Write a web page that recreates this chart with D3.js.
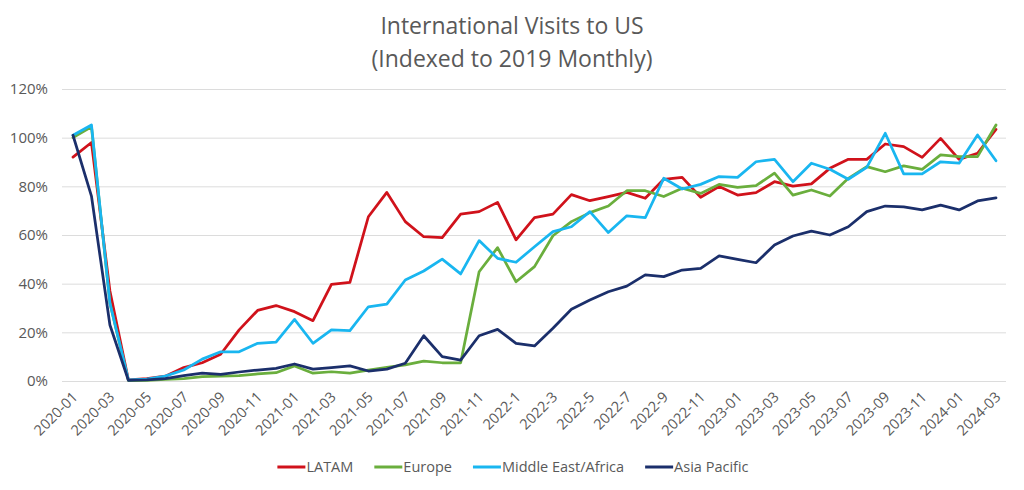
<!DOCTYPE html>
<html>
<head>
<meta charset="utf-8">
<script src="https://cdn.jsdelivr.net/npm/d3@7"></script>
<style>
  html, body { margin: 0; padding: 0; background: #ffffff; }
  svg { display: block; }
  text { font-family: "Open Sans", "Liberation Sans", Arial, sans-serif; fill: #595959; }
</style>
</head>
<body>
<svg id="chart" width="1024" height="490"></svg>
<script>
// ---------------- data ----------------
const months = [
  "2020-01","2020-02","2020-03","2020-04","2020-05","2020-06","2020-07","2020-08","2020-09","2020-10","2020-11","2020-12",
  "2021-01","2021-02","2021-03","2021-04","2021-05","2021-06","2021-07","2021-08","2021-09","2021-10","2021-11","2021-12",
  "2022-01","2022-02","2022-03","2022-04","2022-05","2022-06","2022-07","2022-08","2022-09","2022-10","2022-11","2022-12",
  "2023-01","2023-02","2023-03","2023-04","2023-05","2023-06","2023-07","2023-08","2023-09","2023-10","2023-11","2023-12",
  "2024-01","2024-02","2024-03"
];
const tickMonths = [
  "2020-01","2020-03","2020-05","2020-07","2020-09","2020-11","2021-01","2021-03","2021-05","2021-07","2021-09","2021-11",
  "2022-01","2022-03","2022-05","2022-07","2022-09","2022-11","2023-01","2023-03","2023-05","2023-07","2023-09","2023-11",
  "2024-01","2024-03"
];
const tickLabels = [
  "2020-01","2020-03","2020-05","2020-07","2020-09","2020-11","2021-01","2021-03","2021-05","2021-07","2021-09","2021-11",
  "2022-1","2022-3","2022-5","2022-7","2022-9","2022-11","2023-01","2023-03","2023-05","2023-07","2023-09","2023-11",
  "2024-01","2024-03"
];
const yTicks = [0, 0.2, 0.4, 0.6, 0.8, 1.0, 1.2];

const seriesNames = ["LATAM", "Europe", "Middle East/Africa", "Asia Pacific"];
const latam = [92, 98, 37, 0.5, 1, 2, 5.5, 7.5, 11, 21, 29, 31,
  28.5, 24.8, 39.7, 40.5, 67.5, 77.5, 65.5, 59.3, 58.9, 68.6, 69.6, 73.4,
  58, 67.1, 68.6, 76.6, 74.1, 75.8, 77.5, 75.1, 82.9, 83.7, 75.5, 79.9,
  76.4, 77.4, 81.9, 80.1, 81, 87.4, 91.1, 91.1, 97.4, 96.3, 91.9, 99.7,
  91.1, 93.6, 103.4];
const europe = [100, 104.5, 32, 0.2, 0.3, 0.7, 1, 1.8, 2, 2.2, 2.9, 3.4,
  6.2, 3.2, 3.8, 3.2, 4.5, 5.6, 6.6, 8.2, 7.5, 7.5, 44.9, 54.8,
  40.8, 47, 59.7, 65.5, 69.2, 71.9, 78.2, 78.2, 75.8, 79.2, 77.1, 80.8,
  79.6, 80.3, 85.4, 76.4, 78.5, 76, 83.3, 88.1, 86, 88.4, 87, 92.9,
  92.2, 92.2, 105.2];
const middleEastAfrica = [101, 105.2, 32, 0.5, 0.8, 2, 4.5, 9, 12, 12, 15.5, 16,
  25.3, 15.5, 21, 20.7, 30.5, 31.6, 41.5, 45.2, 50.1, 44, 57.7, 50.4,
  48.8, 55.2, 61.4, 63.4, 69.6, 61, 67.9, 67.1, 83.3, 78.9, 80.8, 84,
  83.7, 90.1, 91.1, 81.9, 89.5, 87, 82.9, 87.8, 101.8, 85.1, 85.1, 90.1,
  89.5, 101.1, 90.5];
const asiaPacific = [101, 76, 23, 0.3, 0.5, 1, 2.2, 3.2, 2.7, 3.7, 4.5, 5.2,
  7, 4.9, 5.5, 6.2, 4.1, 4.9, 7.3, 18.6, 10, 8.6, 18.6, 21.2,
  15.5, 14.4, 21.7, 29.5, 33.3, 36.7, 39, 43.6, 42.9, 45.6, 46.3, 51.4,
  50, 48.6, 55.9, 59.6, 61.6, 60, 63.4, 69.6, 71.9, 71.6, 70.3, 72.3,
  70.3, 74, 75.3];
const seriesColors = ["#d0121b", "#6aae3d", "#19b6f0", "#1b2f6b"];

// ---------------- chart ----------------
const svg = d3.select("#chart");
const plotLeft = 62, plotRight = 1006;
const x = d3.scalePoint().domain(months).range([73, 996]);
const y = d3.scaleLinear().domain([0, 1.2]).range([381, 89]);

// title
svg.append("text").attr("x", 512).attr("y", 34).attr("text-anchor", "middle")
  .style("font-size", "23px").text("International Visits to US");
svg.append("text").attr("x", 512).attr("y", 67).attr("text-anchor", "middle")
  .style("font-size", "23px").text("(Indexed to 2019 Monthly)");

// y axis + gridlines
const yAxis = svg.append("g").attr("transform", `translate(${plotLeft},0)`)
  .call(d3.axisLeft(y).tickValues(yTicks).tickFormat(d3.format(".0%"))
    .tickSize(-(plotRight - plotLeft)).tickPadding(14));
yAxis.select(".domain").remove();
yAxis.selectAll(".tick line").attr("stroke", "#dcdcdc").attr("stroke-width", 1);
yAxis.selectAll(".tick text").style("font-size", "15px").style("font-family", "'Open Sans', sans-serif").attr("fill", "#595959");

// x axis
const labelMap = new Map(tickMonths.map((m, i) => [m, tickLabels[i]]));
const xAxis = svg.append("g").attr("transform", `translate(0,${y(0)})`)
  .call(d3.axisBottom(x).tickValues(tickMonths).tickFormat(d => labelMap.get(d)).tickSize(0));
xAxis.select(".domain").remove();
xAxis.selectAll(".tick text")
  .attr("y", 0).attr("dy", 0)
  .attr("text-anchor", "end")
  .attr("transform", "translate(5,17) rotate(-45)")
  .style("font-size", "14.5px").style("font-family", "'Open Sans', sans-serif").attr("fill", "#595959");

// lines
const allSeries = [latam, europe, middleEastAfrica, asiaPacific];
const line = d3.line().x((d, i) => x(months[i])).y(d => y(d / 100));
svg.append("g").selectAll("path").data(allSeries).join("path")
  .attr("d", d => line(d))
  .attr("fill", "none")
  .attr("stroke", (d, i) => seriesColors[i])
  .attr("stroke-width", 2.75)
  .attr("stroke-linejoin", "round")
  .attr("stroke-linecap", "round");

// legend
const legend = svg.append("g").attr("transform", "translate(0,467)");
const items = legend.selectAll("g").data(seriesNames).join("g");
items.append("line").attr("x1", 0).attr("x2", 28).attr("y1", 0).attr("y2", 0)
  .attr("stroke", (d, i) => seriesColors[i]).attr("stroke-width", 3);
items.append("text").attr("x", 29).attr("dy", "0.35em")
  .style("font-size", "14.5px").text(d => d);
let widths = [];
items.each(function() { widths.push(this.getBBox().width); });
const gap = 21;
const total = d3.sum(widths) + gap * (widths.length - 1);
let cx = 513 - total / 2;
items.attr("transform", (d, i) => { const t = `translate(${cx},0)`; cx += widths[i] + gap; return t; });
</script>
</body>
</html>
